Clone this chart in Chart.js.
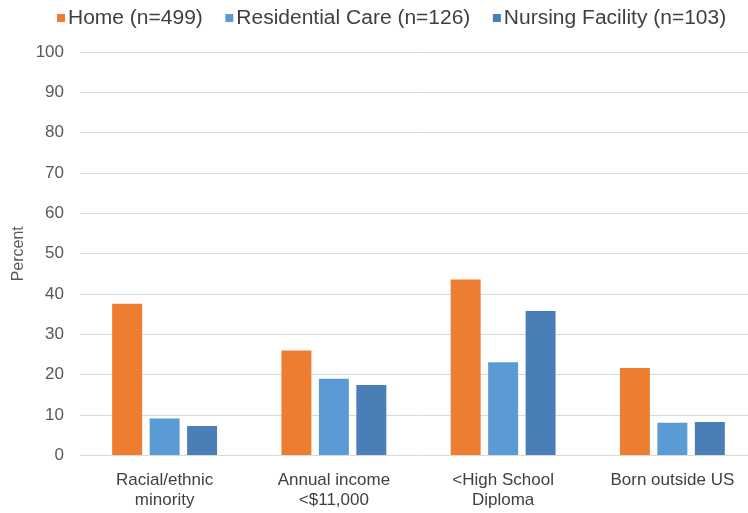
<!DOCTYPE html>
<html>
<head>
<meta charset="utf-8">
<script src="https://cdn.jsdelivr.net/npm/chart.js@4/dist/chart.umd.min.js"></script>
<style>
  html, body { margin: 0; padding: 0; background: #ffffff; overflow: hidden; }
  #wrap { position: absolute; left: 0; top: 0; width: 748px; height: 513px; overflow: hidden; }
  canvas { display: block; }
</style>
</head>
<body>
<div id="wrap"><canvas id="chart" width="757" height="513"></canvas></div>
<script>
// Categories (multi-line axis labels)
const categories = [
  ['Racial/ethnic', 'minority'],
  ['Annual income', '<$11,000'],
  ['<High School', 'Diploma'],
  ['Born outside US']
];

// Series names
const seriesNames = ['Home (n=499)', 'Residential Care (n=126)', 'Nursing Facility (n=103)'];

// Percent values per setting
const homeValues = [37.6, 26.0, 43.6, 21.7];
const residentialValues = [9.2, 19.0, 23.1, 8.1];
const nursingValues = [7.3, 17.5, 35.8, 8.3];

// Y axis range
const yMin = 0;
const yMax = 100;
const yStep = 10;

const colors = ['#ED7D31', '#5B9BD5', '#4A7EB6'];
const FONT = "'Liberation Sans', Arial, Helvetica, sans-serif";

// Legend row drawn across the top of the canvas
const topLegend = {
  id: 'topLegend',
  afterDraw(chart) {
    const ctx = chart.ctx;
    const sx = 1.05;
    ctx.save();
    ctx.font = '20px ' + FONT;
    ctx.textBaseline = 'middle';
    ctx.textAlign = 'left';
    let x = 57;
    const boxY = 14, box = 8, gapText = 11, gapItem = 22.5, textY = 18;
    chart.data.datasets.forEach(ds => {
      ctx.fillStyle = ds.backgroundColor;
      ctx.fillRect(x, boxY, box, box);
      const tx = x + gapText;
      ctx.fillStyle = '#404040';
      ctx.save();
      ctx.translate(tx, textY);
      ctx.scale(sx, 1);
      ctx.fillText(ds.label, 0, 0);
      ctx.restore();
      x = tx + ctx.measureText(ds.label).width * sx + gapItem;
    });
    ctx.restore();
  }
};

new Chart(document.getElementById('chart'), {
  type: 'bar',
  data: {
    labels: categories,
    datasets: [
      { label: seriesNames[0], data: homeValues, backgroundColor: colors[0] },
      { label: seriesNames[1], data: residentialValues, backgroundColor: colors[1] },
      { label: seriesNames[2], data: nursingValues, backgroundColor: colors[2] }
    ]
  },
  options: {
    responsive: false,
    animation: false,
    devicePixelRatio: 1,
    layout: { padding: { top: 52, bottom: 0, left: 0, right: 0 } },
    datasets: {
      bar: { categoryPercentage: 0.664, barPercentage: 0.8, borderWidth: 0 }
    },
    plugins: {
      legend: { display: false },
      tooltip: { enabled: false }
    },
    scales: {
      x: {
        grid: { display: false, drawTicks: false },
        border: { display: false },
        ticks: {
          color: '#404040',
          font: { family: FONT, size: 17, lineHeight: 1.18 },
          padding: 15,
          maxRotation: 0,
          autoSkip: false
        },
        afterFit(scale) { scale.height = 57.5; }
      },
      y: {
        min: yMin,
        max: yMax,
        grid: { color: '#D9D9D9', lineWidth: 1, drawTicks: false },
        border: { display: false },
        ticks: {
          stepSize: yStep,
          color: '#595959',
          font: { family: FONT, size: 17 },
          padding: 16
        },
        title: {
          display: true,
          text: 'Percent',
          color: '#595959',
          font: { family: FONT, size: 16 },
          padding: { top: 9, bottom: 0 }
        },
        afterFit(scale) { scale.width = 80; }
      }
    }
  },
  plugins: [topLegend]
});
</script>
</body>
</html>
